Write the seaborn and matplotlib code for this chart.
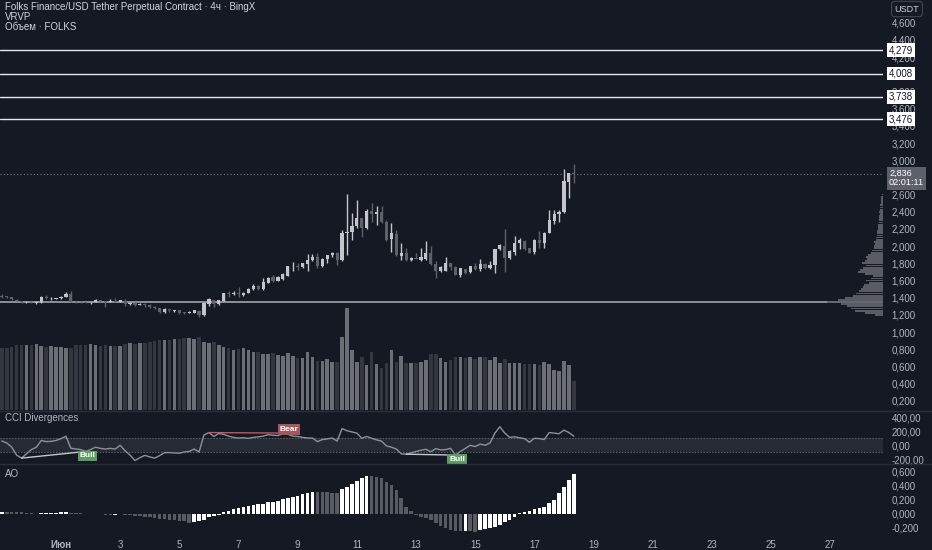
import numpy as np
import pandas as pd
import matplotlib
matplotlib.use("Agg")
import matplotlib.pyplot as plt
from matplotlib.lines import Line2D
from matplotlib.transforms import blended_transform_factory as btf
import seaborn as sns

# ---------------- data ----------------
opens = [1.425, 1.415, 1.405, 1.378, 1.362, 1.350, 1.352, 1.338, 1.347, 1.413,
         1.393, 1.390, 1.395, 1.413, 1.444, 1.355, 1.352, 1.348, 1.335, 1.351,
         1.370, 1.357, 1.351, 1.358, 1.354, 1.366, 1.325, 1.345, 1.316, 1.322,
         1.316, 1.293, 1.280, 1.235, 1.266, 1.250, 1.258, 1.230, 1.224, 1.227,
         1.250, 1.200, 1.330, 1.375, 1.328, 1.367, 1.452, 1.445, 1.452, 1.429,
         1.460, 1.499, 1.537, 1.500, 1.576, 1.646, 1.600, 1.623, 1.658, 1.754,
         1.765, 1.762, 1.793, 1.840, 1.878, 1.770, 1.848, 1.894, 1.917, 1.840,
         2.158, 2.162, 2.235, 2.324, 2.208, 2.413, 2.380, 2.402, 2.285, 2.080,
         2.141, 1.886, 1.925, 1.840, 1.862, 1.839, 1.855, 1.925, 1.793, 1.711,
         1.715, 1.808, 1.762, 1.665, 1.735, 1.696, 1.770, 1.735, 1.792, 1.742,
         1.781, 1.963, 2.002, 1.859, 1.936, 2.041, 2.060, 1.975, 1.935, 2.072,
         2.033, 2.157, 2.297, 2.374, 2.400, 2.750, 2.847]
highs = [1.440, 1.420, 1.410, 1.382, 1.365, 1.357, 1.360, 1.360, 1.417, 1.430,
         1.410, 1.400, 1.420, 1.467, 1.475, 1.360, 1.358, 1.352, 1.350, 1.385,
         1.373, 1.362, 1.382, 1.397, 1.380, 1.382, 1.355, 1.350, 1.335, 1.335,
         1.323, 1.300, 1.283, 1.280, 1.270, 1.262, 1.260, 1.240, 1.245, 1.262,
         1.258, 1.350, 1.400, 1.380, 1.380, 1.460, 1.479, 1.480, 1.522, 1.470,
         1.510, 1.560, 1.550, 1.627, 1.640, 1.660, 1.650, 1.690, 1.775, 1.820,
         1.809, 1.810, 1.910, 1.910, 1.925, 1.860, 1.900, 1.937, 1.930, 2.189,
         2.607, 2.382, 2.537, 2.330, 2.429, 2.499, 2.468, 2.468, 2.300, 2.273,
         2.190, 2.033, 1.975, 1.870, 1.925, 1.975, 2.060, 2.000, 1.826, 1.770,
         1.870, 1.810, 1.770, 1.750, 1.740, 1.775, 1.800, 1.847, 1.800, 1.830,
         1.970, 2.020, 2.196, 1.950, 2.118, 2.090, 2.070, 1.980, 2.080, 2.177,
         2.160, 2.420, 2.420, 2.420, 2.894, 2.850, 2.955]
lows = [1.400, 1.395, 1.380, 1.360, 1.345, 1.345, 1.340, 1.325, 1.345, 1.385,
        1.370, 1.385, 1.385, 1.410, 1.350, 1.343, 1.345, 1.338, 1.325, 1.350,
        1.350, 1.297, 1.348, 1.348, 1.350, 1.310, 1.320, 1.310, 1.312, 1.297,
        1.277, 1.272, 1.225, 1.228, 1.240, 1.240, 1.215, 1.215, 1.220, 1.220,
        1.180, 1.190, 1.310, 1.290, 1.320, 1.360, 1.413, 1.430, 1.413, 1.420,
        1.450, 1.490, 1.490, 1.490, 1.570, 1.580, 1.590, 1.610, 1.650, 1.716,
        1.723, 1.750, 1.716, 1.830, 1.743, 1.760, 1.800, 1.880, 1.782, 1.830,
        1.898, 2.072, 2.208, 2.111, 2.200, 2.285, 2.247, 2.270, 2.060, 1.936,
        1.890, 1.839, 1.830, 1.830, 1.850, 1.830, 1.840, 1.780, 1.626, 1.700,
        1.710, 1.720, 1.660, 1.645, 1.680, 1.690, 1.720, 1.715, 1.740, 1.740,
        1.684, 1.950, 1.704, 1.850, 1.897, 1.963, 1.950, 1.920, 1.909, 1.975,
        1.975, 2.150, 2.258, 2.285, 2.390, 2.556, 2.740]
closes = [1.410, 1.405, 1.386, 1.363, 1.352, 1.353, 1.347, 1.350, 1.413, 1.395,
          1.398, 1.394, 1.413, 1.444, 1.355, 1.348, 1.347, 1.342, 1.343, 1.374,
          1.357, 1.351, 1.358, 1.352, 1.370, 1.330, 1.345, 1.315, 1.322, 1.316,
          1.297, 1.280, 1.235, 1.273, 1.255, 1.258, 1.222, 1.224, 1.238, 1.258,
          1.200, 1.344, 1.382, 1.330, 1.375, 1.452, 1.445, 1.452, 1.440, 1.460,
          1.500, 1.537, 1.500, 1.588, 1.634, 1.600, 1.646, 1.677, 1.770, 1.762,
          1.755, 1.801, 1.840, 1.878, 1.770, 1.848, 1.894, 1.917, 1.840, 2.158,
          2.165, 2.235, 2.324, 2.208, 2.413, 2.371, 2.400, 2.285, 2.072, 2.149,
          1.897, 1.925, 1.839, 1.866, 1.855, 1.870, 1.925, 1.789, 1.715, 1.762,
          1.808, 1.754, 1.665, 1.742, 1.692, 1.770, 1.735, 1.792, 1.742, 1.781,
          1.963, 2.013, 1.867, 1.944, 2.041, 2.072, 1.963, 1.924, 2.072, 2.033,
          2.157, 2.304, 2.374, 2.400, 2.762, 2.847, 2.836]
volumes = [623, 623, 633, 650, 650, 650, 650, 657, 640, 633,
           640, 633, 627, 623, 623, 650, 650, 650, 657, 650,
           643, 650, 643, 643, 643, 660, 673, 660, 667, 673,
           683, 690, 700, 700, 700, 707, 710, 717, 717, 707,
           727, 677, 667, 683, 650, 633, 617, 600, 607, 617,
           600, 583, 583, 560, 557, 567, 550, 540, 567, 540,
           517, 517, 577, 527, 493, 493, 507, 483, 483, 727,
           1017, 600, 483, 527, 450, 580, 460, 417, 473, 600,
           483, 540, 473, 473, 473, 483, 500, 557, 557, 517,
           483, 500, 527, 527, 517, 527, 507, 533, 527, 500,
           527, 473, 507, 467, 473, 467, 457, 460, 460, 450,
           483, 460, 400, 393, 493, 450, 293]
cci = [57, 30, -31, -144, -187, -126, -65, -31, 65, 48,
       52, 65, 91, 126, -47, -57, -65, -92, -65, -31,
       -48, -57, -48, -57, -4, -83, -144, -222, -180, -148,
       -170, -187, -152, -109, -109, -113, -118, -100, -92, -57,
       -100, 144, 178, 122, 165, 152, 126, 109, 100, 104,
       96, 109, 117, 126, 148, 139, 135, 161, 152, 126,
       122, 109, 100, 100, 48, 78, 87, 100, 56, 235,
       204, 187, 170, 96, 122, 96, 74, 56, -13, -31,
       -57, -126, -131, -113, -92, -74, -61, -96, -52, -70,
       -65, -48, -144, -92, -48, -4, -22, 13, -4, 30,
       170, 261, 170, 109, 117, 104, 91, 39, 96, 91,
       78, 178, 170, 161, 213, 178, 126]
ao = [0.035, 0.033, 0.030, 0.026, 0.022, 0.016, 0.010, 0.004, 0.008, 0.012,
      0.016, 0.020, 0.022, 0.024, 0.020, 0.016, 0.012, 0.006, 0.002, -0.004,
      -0.002, -0.008, -0.012, -0.008, -0.004, -0.010, -0.016, -0.024, -0.032, -0.040,
      -0.048, -0.058, -0.066, -0.074, -0.082, -0.090, -0.098, -0.106, -0.122, -0.118,
      -0.100, -0.080, -0.050, -0.030, -0.010, 0.024, 0.043, 0.067, 0.090, 0.105,
      0.119, 0.129, 0.138, 0.148, 0.167, 0.176, 0.186, 0.210, 0.229, 0.248,
      0.262, 0.286, 0.300, 0.319, 0.317, 0.314, 0.310, 0.305, 0.295, 0.352,
      0.390, 0.424, 0.471, 0.519, 0.548, 0.543, 0.533, 0.510, 0.462, 0.414,
      0.343, 0.233, 0.105, 0.043, -0.014, -0.038, -0.062, -0.086, -0.133, -0.167,
      -0.205, -0.229, -0.243, -0.250, -0.243, -0.250, -0.255, -0.229, -0.214, -0.205,
      -0.181, -0.157, -0.110, -0.086, -0.038, 0.010, 0.033, 0.043, 0.067, 0.090,
      0.105, 0.152, 0.200, 0.295, 0.390, 0.486, 0.571]
vp_prices = [1.200, 1.225, 1.250, 1.275, 1.300, 1.325, 1.350, 1.375, 1.400, 1.425,
             1.450, 1.475, 1.500, 1.525, 1.550, 1.575, 1.600, 1.625, 1.650, 1.675,
             1.700, 1.725, 1.750, 1.775, 1.800, 1.825, 1.850, 1.875, 1.900, 1.925,
             1.950, 1.975, 2.000, 2.025, 2.050, 2.075, 2.100, 2.125, 2.150, 2.175,
             2.200, 2.225, 2.250, 2.275, 2.300, 2.325, 2.350, 2.375, 2.400, 2.425,
             2.450, 2.475, 2.500, 2.525, 2.550, 2.575, 2.600]
vp_volumes = [8, 18, 28, 32, 36, 42, 56, 45, 38, 30,
              27, 24, 22, 20, 19, 14, 17, 12, 10, 18,
              25, 23, 20, 17, 21, 18, 16, 17, 15, 12,
              11, 9, 9, 8, 9, 7, 7, 6, 6, 6,
              5, 5, 5, 4, 4, 4, 4, 3, 4, 3,
              3, 3, 2, 2, 2, 2, 1]
level_prices = [4.279, 4.008, 3.738, 3.476]
poc_price = 1.355
last_price = 2.836
countdown = "02:01:11"
# 4,000 and 2,800 are hidden behind price labels in the original
price_ticks = [0.2, 0.4, 0.6, 0.8, 1.0, 1.2, 1.4, 1.6, 1.8, 2.0, 2.2, 2.4,
               2.6, 3.0, 3.2, 3.4, 3.6, 3.8, 4.2, 4.4, 4.6]
cci_ticks = [-200, 0, 200, 400]
ao_ticks = [-0.2, 0.0, 0.2, 0.4, 0.6]
start_time = "2025-05-30 00:00"
day_numbers = [1, 3, 5, 7, 9, 11, 13, 15, 17, 19, 21, 23, 25, 27]
month_label = "Июн"
bull_div = [((4, -187), (17, -92)), ((82, -131), (92, -144))]
bear_div = [((42, 178), (58, 170))]

# ---------------- style ----------------
BG = "#151924"
TXT = "#b2b5be"
LIGHT = "#c3c5cb"
DARK = "#5f6169"
VOL_LIGHT = "#6c6e75"
VOL_DARK = "#34373f"
FONT = ["Liberation Sans", "DejaVu Sans"]
sns.set_theme(style="dark", rc={"axes.facecolor": BG, "figure.facecolor": BG,
                                "axes.edgecolor": BG, "text.color": TXT,
                                "xtick.color": TXT, "ytick.color": TXT})
plt.rcParams["font.family"] = FONT

W, H = 932, 550
fig = plt.figure(figsize=(W / 100, H / 100), dpi=100, facecolor=BG)


def frame(x0, y0, x1, y1):
    return [x0 / W, 1 - y1 / H, (x1 - x0) / W, (y1 - y0) / H]


ax = fig.add_axes(frame(0, 0, 883, 410))
ax_c = fig.add_axes(frame(0, 411, 883, 463))
ax_a = fig.add_axes(frame(0, 464, 883, 534))

o = np.array(opens); h = np.array(highs); l = np.array(lows); c = np.array(closes)
n = len(c)
idx = np.arange(n)
up = c >= o
XMIN, XMAX = -0.37, 178.7


def right_axis(a, ticks, fmt):
    a.yaxis.tick_right()
    a.set_yticks(ticks)
    a.set_yticklabels([fmt(v) for v in ticks])
    a.tick_params(axis="y", length=0, pad=6, labelsize=7, labelcolor=TXT)


# ---------------- main price pane ----------------
for p in level_prices:
    ax.axhline(p, color="#e6e8ee", lw=1.0, zorder=1)
ax.axhline(poc_price, color="#8d9099", lw=1.4, zorder=1)
ax.axhline(last_price, color="#787b86", lw=0.8, ls=(0, (1, 2)), zorder=1)

cols = np.where(up, LIGHT, DARK)
ax.vlines(idx, l, h, colors=cols, lw=1.0, zorder=3)
body_b = np.minimum(o, c)
body_h = np.maximum(np.abs(c - o), 0.006)
ax.bar(idx, body_h, bottom=body_b, width=0.64, color=cols, linewidth=0, zorder=4)

# volume (overlay)
ax_v = ax.twinx()
vdf = pd.DataFrame({"i": idx, "vol": volumes, "dir": np.where(up, "up", "down")})
sns.barplot(data=vdf, x="i", y="vol", hue="dir", palette={"up": VOL_LIGHT, "down": VOL_DARK},
            native_scale=True, dodge=False, width=0.72, saturation=1, errorbar=None,
            legend=False, linewidth=0, ax=ax_v)
ax_v.set_ylim(0, 4100)
ax_v.set_xlim(XMIN, XMAX)
ax_v.axis("off")

# volume profile (VRVP)
ax_p = ax.twiny()
ax_p.barh(vp_prices, vp_volumes, height=0.021, color="#61646d", alpha=0.9, linewidth=0)
ax_p.set_xlim(883, 0)
ax_p.axis("off")

ax.set_xlim(XMIN, XMAX)
ax.set_ylim(0.095, 4.863)
ax_p.set_ylim(0.095, 4.863)
right_axis(ax, price_ticks, lambda v: f"{v:.3f}".replace(".", ","))
ax.set_xticks([])
for s in ax.spines.values():
    s.set_visible(False)

tr = btf(ax.transAxes, ax.transData)
for p in level_prices:
    ax.text(1 + 6 / 883, p, f"{p:.3f}".replace(".", ","), transform=tr, ha="left", va="center",
            fontsize=7, color="#131722", clip_on=False, zorder=10,
            bbox=dict(boxstyle="square,pad=0.2", fc="white", ec="none"))
ax.annotate(f"{last_price:.3f}".replace(".", ",") + "\n" + countdown, xy=(1, last_price),
            xycoords=tr, xytext=(6, -4), textcoords="offset pixels", ha="left", va="center",
            fontsize=6.6, color="white", linespacing=1.0, annotation_clip=False, zorder=10,
            bbox=dict(boxstyle="square,pad=0.25", fc="#5d606b", ec="none"))

# ---------------- CCI pane ----------------
ax_c.axhspan(-100, 100, color="#262a35", lw=0, zorder=0)
for v in (-100, 100):
    ax_c.axhline(v, color="#5d606b", lw=0.7, ls=(0, (1.5, 1.5)), zorder=1)
sns.lineplot(x=idx, y=cci, ax=ax_c, color="#8e9199", lw=1.0, zorder=3)
for (a, b) in bull_div:
    ax_c.plot([a[0], b[0]], [a[1], b[1]], color="#c7c9ce", lw=1.0, zorder=4)
    ax_c.text(b[0] + 0.3, b[1] - 62, "Bull", ha="center", va="center", fontsize=6, color="white",
              fontweight="bold", zorder=6,
              bbox=dict(boxstyle="square,pad=0.2", fc="#5e9b66", ec="none"))
for (a, b) in bear_div:
    ax_c.plot([a[0], b[0]], [a[1], b[1]], color="#c2575c", lw=1.0, zorder=4)
    ax_c.text(b[0] + 0.3, b[1] + 52, "Bear", ha="center", va="center", fontsize=6, color="white",
              fontweight="bold", zorder=6,
              bbox=dict(boxstyle="square,pad=0.2", fc="#a1585d", ec="none"))
ax_c.set_xlim(XMIN, XMAX)
ax_c.set_ylim(-257, 486)
right_axis(ax_c, cci_ticks, lambda v: f"{v:.2f}".replace(".", ","))
ax_c.set_xticks([])
ax_c.set_xlabel(""); ax_c.set_ylabel("")
for s in ax_c.spines.values():
    s.set_visible(False)
ax_c.text(5 / 883, 0.86, "CCI Divergences", transform=ax_c.transAxes, fontsize=7, color=TXT,
          va="center")

# ---------------- AO pane ----------------
ao_arr = np.array(ao)
rising = np.r_[True, ao_arr[1:] >= ao_arr[:-1]]
adf = pd.DataFrame({"i": idx, "ao": ao_arr, "dir": np.where(rising, "up", "down")})
sns.barplot(data=adf, x="i", y="ao", hue="dir", palette={"up": "#ffffff", "down": "#595b63"},
            native_scale=True, dodge=False, width=0.72, saturation=1, errorbar=None,
            legend=False, linewidth=0, ax=ax_a)
ax_a.set_xlim(XMIN, XMAX)
ax_a.set_ylim(-0.286, 0.714)
right_axis(ax_a, ao_ticks, lambda v: f"{v:.3f}".replace(".", ","))
t0 = pd.Timestamp(start_time)
day_pos = [(pd.Timestamp(year=t0.year, month=6, day=d) - t0) / pd.Timedelta(hours=4)
           for d in day_numbers]
ax_a.set_xticks(day_pos)
ax_a.set_xticklabels([month_label if d == 1 else str(d) for d in day_numbers])
ax_a.tick_params(axis="x", length=0, pad=4, labelsize=7, labelcolor=TXT)
ax_a.get_xticklabels()[0].set_fontweight("bold")
ax_a.set_xlabel(""); ax_a.set_ylabel("")
for s in ax_a.spines.values():
    s.set_visible(False)
ax_a.text(5 / 883, 0.86, "AO", transform=ax_a.transAxes, fontsize=7, color=TXT, va="center")

# ---------------- separators & header ----------------
for yy in (410.5, 463.5):
    fig.add_artist(Line2D([0, 1], [1 - yy / H] * 2, color="#2a2e39", lw=1,
                          transform=fig.transFigure))
fig.text(5 / W, 1 - 7 / H, "Folks Finance/USD Tether Perpetual Contract · 4ч · BingX",
         fontsize=7, color="#d1d4dc", va="center")
fig.text(5 / W, 1 - 17 / H, "VRVP", fontsize=7, color="#d1d4dc", va="center")
fig.text(5 / W, 1 - 27 / H, "Объем · FOLKS", fontsize=7, color="#d1d4dc", va="center")
fig.text(907 / W, 1 - 9 / H, "USDT", ha="center", va="center", fontsize=6.5, color="#d1d4dc",
         bbox=dict(boxstyle="round,pad=0.35", fc=BG, ec="#434651", lw=0.8))

fig.savefig("out.png", dpi=100, facecolor=BG)
